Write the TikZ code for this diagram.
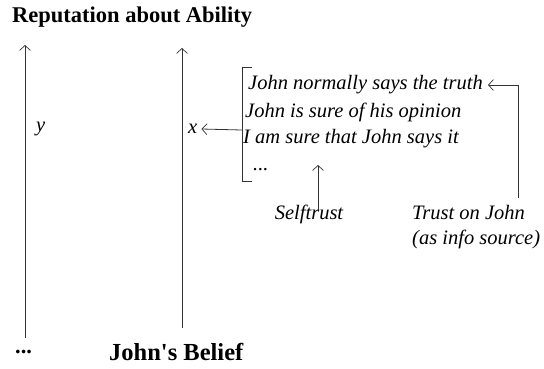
\documentclass[tikz,border=0pt]{standalone}
\usepackage{fontspec}
\setmainfont{Liberation Serif}[ItalicFont={Liberation Serif Italic},BoldFont={Liberation Serif Bold}]
\usetikzlibrary{arrows.meta}
\begin{document}
\begin{tikzpicture}[x=1pt,y=-1pt,
  lbl/.style={inner sep=0pt, font=\fontsize{20.5}{25}\selectfont\itshape},
  bld/.style={inner sep=0pt, font=\fontsize{22.5}{26}\selectfont\bfseries},
  conn/.style={draw=black!80, line width=0.8pt, -{Straight Barb[length=5pt,width=11pt,line width=0.7pt]}},
  plain/.style={draw=black!80, line width=0.8pt}]
\useasboundingbox (0,0) rectangle (544,368);
% titles
\node[bld, anchor=west] (title) at (12,17) {Reputation about Ability};
\node[bld, anchor=west, font=\fontsize{24.5}{28}\selectfont\bfseries] (belief) at (109,352) {John\textquotesingle s Belief};
\node[bld, anchor=west] (dots) at (15,352) {...};
% vertical axes
\coordinate (ytop) at (25,45);
\coordinate (xtop) at (182,48);
\coordinate (ybot) at (25,338);
\coordinate (xbot) at (182,328);
\draw[conn] (ybot) -- (ytop);
\draw[conn] (xbot) -- (xtop);
\node[lbl, anchor=west] (y) at (36,129) {y};
\node[lbl, anchor=west] (x) at (188,129) {x};
% bracket list
\node[lbl, anchor=west] (t1) at (248,85) {John normally says the truth};
\node[lbl, anchor=west] (t2) at (245,112) {John is sure of his opinion};
\node[lbl, anchor=west] (t3) at (243,139) {I am sure that John says it};
\node[lbl, anchor=west] (t4) at (253,170) {...};
\coordinate (bt) at (242,67);
\coordinate (bb) at (242,181);
\coordinate (bm) at (242,130);
\draw[plain] ([xshift=10pt]bt) -- (bt) -- (bb) -- ([xshift=10pt]bb);
\draw[conn] (bm) -- ([xshift=4pt]x.east);
% trusts
\node[lbl, anchor=center] (self) at (309,214) {Selftrust};
\node[lbl, anchor=west, align=left] (trust) at (412,227) {Trust on John\\(as info source)};
\coordinate (selftip) at (318,165);
\draw[conn] ([xshift=9pt,yshift=-6pt]self.north) -- (selftip);
\coordinate (corner) at (518,85);
\draw[conn] (518,198) -- (corner) -- ([xshift=5pt]t1.east);
\end{tikzpicture}
\end{document}
